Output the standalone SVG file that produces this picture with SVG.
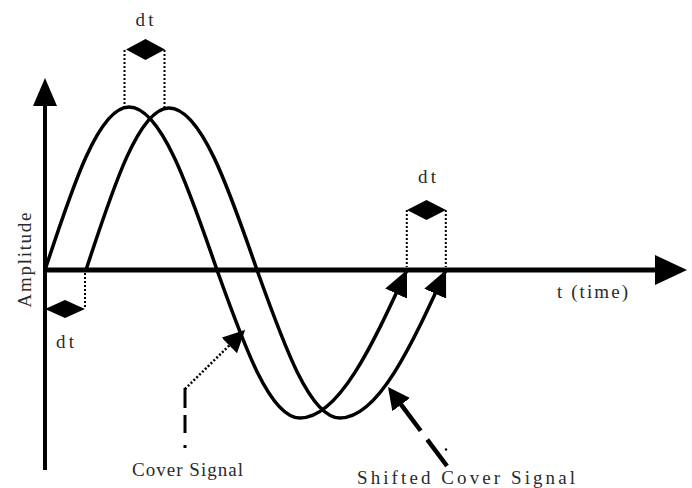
<svg xmlns="http://www.w3.org/2000/svg" width="692" height="488" viewBox="0 0 692 488">
<style>
.curve{fill:none;stroke:#000;stroke-width:3.5}
.axis{fill:none;stroke:#000}
.dot{fill:none;stroke:#000;stroke-width:2;stroke-dasharray:2 2}
.head{fill:#000;stroke:none}
.lbl{font-family:"Liberation Serif","Times New Roman",serif;font-size:19px;fill:#2a2a2a}
</style>
<defs>
<marker id="cah" markerUnits="userSpaceOnUse" viewBox="0 0 26 24" refX="26" refY="12" markerWidth="26" markerHeight="24" orient="auto">
<path d="M0,0 L26,12 L0,24 z" fill="#000"/>
</marker>
<marker id="pah" markerUnits="userSpaceOnUse" viewBox="0 0 22 22" refX="22" refY="11" markerWidth="22" markerHeight="22" orient="auto">
<path d="M0,0 L22,11 L0,22 z" fill="#000"/>
</marker>
</defs>
<g id="connectors">
<path id="cover-signal" class="curve" d="M45,270 C72.4,186.5 98.6,107 129,107 C160.8,107 188.3,186.5 217,270 C244.1,345.8 270,418 300,418 C338.7,418 372.1,345.8 407,270" marker-end="url(#cah)"/>
<path id="shifted-signal" class="curve" d="M86,270 C113.1,187 139,108 169,108 C200.8,108 228.3,187 257,270 C284.1,345.8 310,418 340,418 C378.4,418 411.4,345.8 446,270" marker-end="url(#cah)"/>
<line class="axis" x1="45" y1="470" x2="45" y2="104" stroke-width="4"/>
<polygon class="head" points="45,78 33,106 57,106"/>
<line class="axis" x1="43" y1="270" x2="657" y2="270" stroke-width="5"/>
<polygon class="head" points="655,255 687,270 655,285"/>
<line class="dot" x1="124.5" y1="50" x2="124.5" y2="107"/>
<line class="dot" x1="164.5" y1="50" x2="164.5" y2="107"/>
<line class="dot" x1="406.8" y1="210" x2="406.8" y2="267"/>
<line class="dot" x1="445.8" y1="210" x2="445.8" y2="267"/>
<line class="dot" x1="85" y1="273" x2="85" y2="309"/>
<path class="axis" d="M185,388 L185,448" stroke-width="3" stroke-dasharray="20 7 18 12 3"/>
<path class="axis" d="M185,389 L245,330" stroke-width="2.5" stroke-dasharray="2 2" marker-end="url(#pah)"/>
<path class="axis" d="M447,466 L388,387" stroke-width="4.5" stroke-dasharray="33 11 33 100" marker-end="url(#pah)"/>
<circle cx="446" cy="449.5" r="1.2" fill="#000"/>
</g>
<g id="dt-top">
<polygon class="head" points="126,49.5 145.5,39 165,49.5 145.5,60"/>
<text class="lbl" x="144.5" y="26" text-anchor="middle" textLength="18">dt</text>
</g>
<g id="dt-right">
<polygon class="head" points="407,210 426.5,200 446,210 426.5,220"/>
<text class="lbl" x="427" y="183" text-anchor="middle" textLength="18">dt</text>
</g>
<g id="dt-left">
<polygon class="head" points="45,309 65,300 85,309 65,318"/>
<text class="lbl" x="65" y="348" text-anchor="middle" textLength="18">dt</text>
</g>
<g id="label-amplitude">
<text class="lbl" transform="translate(31,260) rotate(-90)" text-anchor="middle" textLength="95">Amplitude</text>
</g>
<g id="label-time">
<text class="lbl" x="557" y="298" textLength="71">t (time)</text>
</g>
<g id="label-cover">
<text class="lbl" x="132" y="476" textLength="111">Cover Signal</text>
</g>
<g id="label-shifted">
<text class="lbl" x="357" y="484" textLength="218">Shifted Cover Signal</text>
</g>
</svg>
